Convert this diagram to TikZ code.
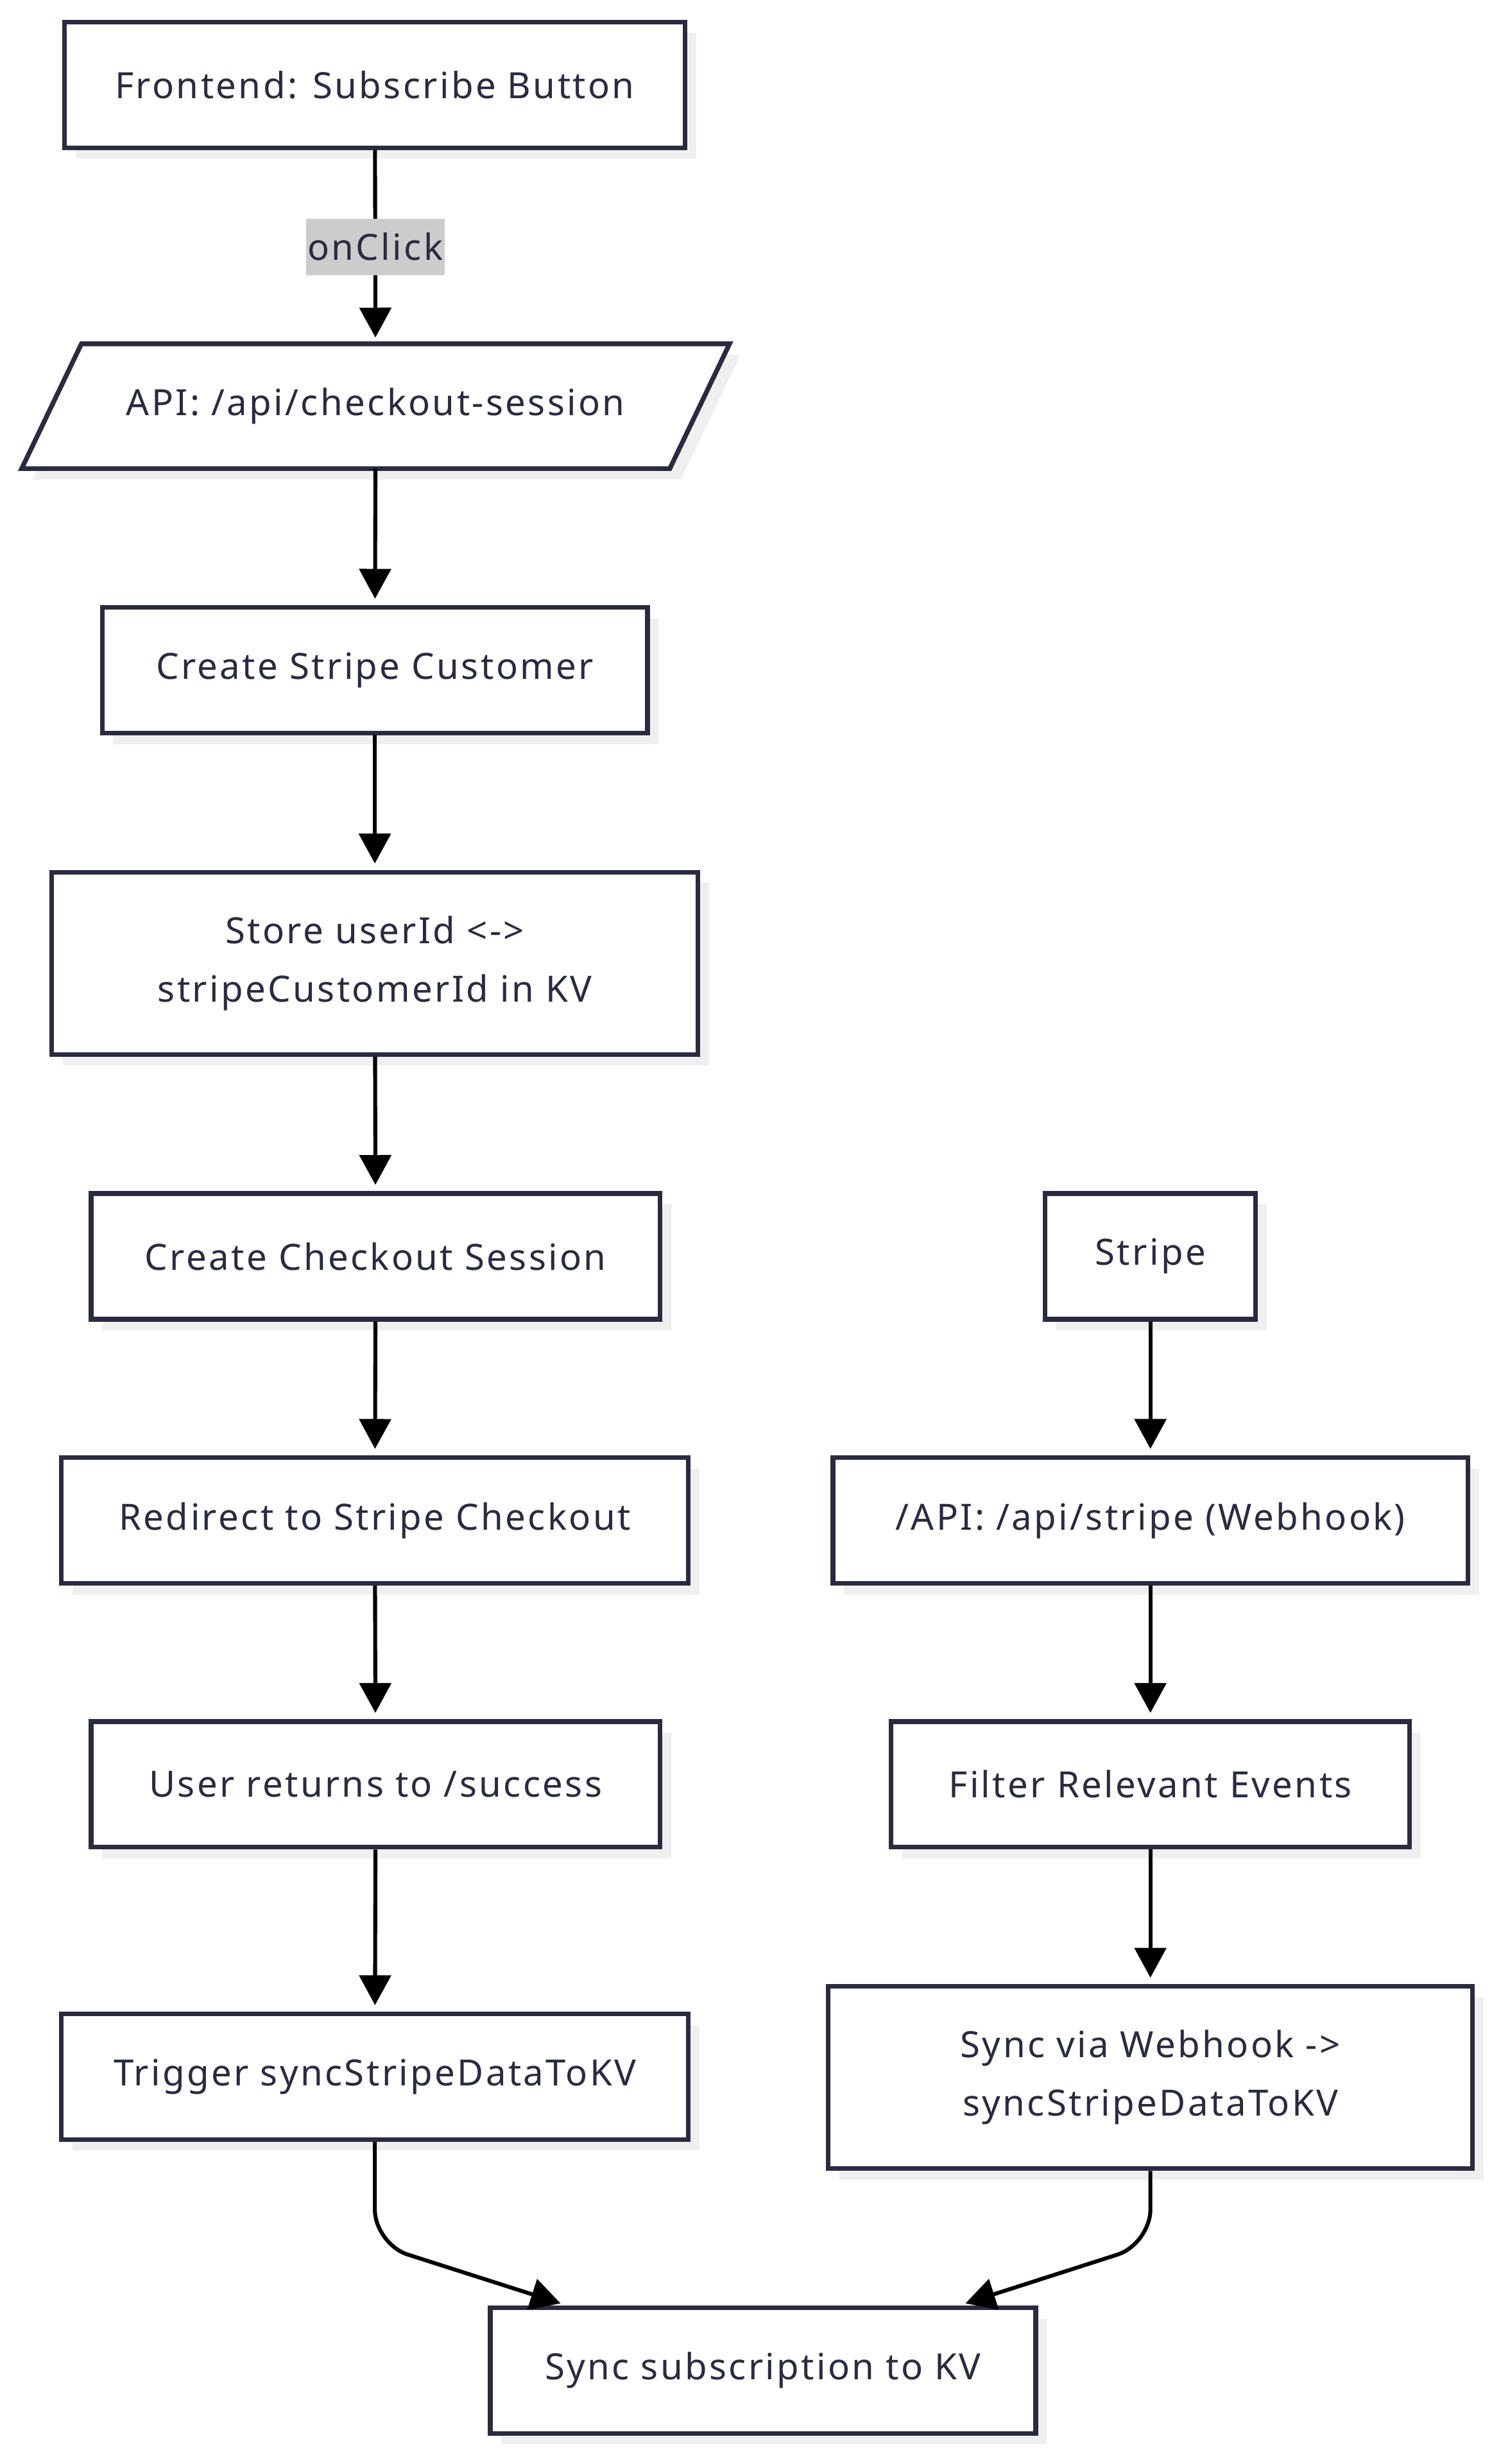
\documentclass[tikz,border=0pt]{standalone}
\usepackage{fontspec}
\setmainfont[LetterSpace=6]{Noto Sans}
\usetikzlibrary{arrows.meta, shadows, positioning}

\definecolor{ink}{RGB}{42,42,64}
\definecolor{shade}{RGB}{239,239,239}
\definecolor{lblgray}{RGB}{204,204,204}

\begin{document}
\begin{tikzpicture}[x=1pt, y=-1pt,
		box/.style={draw=ink, line width=3pt, fill=white, text=ink, align=center,
			minimum height=80pt, inner xsep=20pt,
			drop shadow={shadow xshift=7pt, shadow yshift=-7pt, fill=shade, opacity=1}},
		tall/.style={box, minimum height=116pt},
		flow/.style={draw=black, line width=2.5pt, -{Triangle[length=19pt,width=20pt]}, shorten >=4pt},
		lbl/.style={fill=lblgray, text=ink, inner xsep=1pt, minimum height=36pt}]
		\useasboundingbox (0,0) rectangle (955,1568);
		\fontsize{23}{37}\selectfont
		
		% left column
		\node[box, minimum width=395pt] (front) at (238.5,54) {Frontend: Subscribe Button};
		\node[minimum width=450pt, minimum height=79pt, text=ink] (api) at (239,258.5) {API: /api/checkout-session};
		\draw[draw=ink, line width=3pt, fill=white,
			drop shadow={shadow xshift=7pt, shadow yshift=-7pt, fill=shade, opacity=1}]
			([xshift=38pt]api.north west) -- (api.north east) -- ([xshift=-38pt]api.south east) -- (api.south west) -- cycle;
		\node[text=ink] at (api) {API: /api/checkout-session};
		\node[box, minimum width=347pt] (cust) at (238.5,426.5) {Create Stripe Customer};
		\node[tall, minimum width=411pt] (store) at (238.5,613) {Store userId <->\\stripeCustomerId in KV};
		\node[box, minimum width=362pt] (chk) at (239,799.5) {Create Checkout Session};
		\node[box, minimum width=399pt] (redir) at (238.5,967.5) {Redirect to Stripe Checkout};
		\node[box, minimum width=362pt] (ret) at (239,1135.5) {User returns to /success};
		\node[box, minimum width=399pt] (trig) at (238.5,1321.5) {Trigger syncStripeDataToKV};
		
		% right column
		\node[box, minimum width=134pt] (stripe) at (732,799.5) {Stripe};
		\node[box, minimum width=404pt] (hook) at (732,967.5) {/API: /api/stripe (Webhook)};
		\node[box, minimum width=330pt] (filter) at (732,1135.5) {Filter Relevant Events};
		\node[tall, minimum width=410pt] (viahook) at (732,1322) {Sync via Webhook ->\\syncStripeDataToKV};
		
		\node[box, minimum width=347pt] (sync) at (485.5,1508.5) {Sync subscription to KV};
		
		\draw[flow] (front) -- node[lbl] {onClick} (api);
		\draw[flow] (api) -- (cust);
		\draw[flow] (cust) -- (store);
		\draw[flow] (store) -- (chk);
		\draw[flow] (chk) -- (redir);
		\draw[flow] (redir) -- (ret);
		\draw[flow] (ret) -- (trig);
		
		\draw[flow] (stripe) -- (hook);
		\draw[flow] (hook) -- (filter);
		\draw[flow] (filter) -- (viahook);
		
		\coordinate (bendL) at (238.5,1428);
		\coordinate (bendR) at (732,1428);
		\draw[flow, rounded corners=22pt] (trig.south) -- (bendL) -- ([xshift=-125pt]sync.north);
		\draw[flow, rounded corners=22pt] (viahook.south) -- (bendR) -- ([xshift=125pt]sync.north);
	\end{tikzpicture}
\end{document}
